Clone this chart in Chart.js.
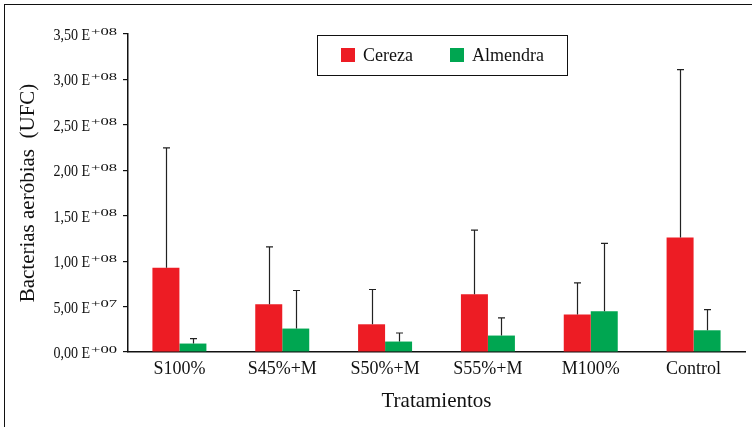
<!DOCTYPE html>
<html>
<head>
<meta charset="utf-8">
<script src="https://cdn.jsdelivr.net/npm/chart.js@4.4.1/dist/chart.umd.min.js"></script>
<style>
  html, body { margin: 0; padding: 0; background: #fff; }
  #wrap { position: relative; width: 752px; height: 427px; overflow: hidden; }
  #frame { position: absolute; left: 4px; top: 4px; width: 760px; height: 440px;
           border-left: 1.5px solid #111; border-top: 1.5px solid #111; pointer-events: none; }
  #legend { position: absolute; left: 317px; top: 35px; width: 249px; height: 39px;
            border: 1.5px solid #111; font-family: "Liberation Serif", "Times New Roman", serif;
            font-size: 18px; color: #111; }
  .sw { position: absolute; width: 14px; height: 14px; top: 12px; }
  .lt { position: absolute; top: 9px; line-height: 20px; }
</style>
</head>
<body>
<div id="wrap">
  <canvas id="c" width="752" height="427"></canvas>
  <div id="frame"></div>
  <div id="legend">
    <div class="sw" style="left:23px;background:#ED1C24"></div>
    <div class="lt" style="left:45px">Cereza</div>
    <div class="sw" style="left:132px;background:#00A651"></div>
    <div class="lt" style="left:154px">Almendra</div>
  </div>
</div>
<script>
const categories = ['S100%', 'S45%+M', 'S50%+M', 'S55%+M', 'M100%', 'Control'];
const cerezaValues = [0.926e8, 0.526e8, 0.305e8, 0.636e8, 0.412e8, 1.261e8];
const cerezaErrors = [1.320e8, 0.632e8, 0.383e8, 0.706e8, 0.349e8, 1.848e8];
const almendraValues = [0.093e8, 0.258e8, 0.115e8, 0.181e8, 0.449e8, 0.239e8];
const almendraErrors = [0.055e8, 0.419e8, 0.094e8, 0.194e8, 0.746e8, 0.228e8];
const yTickMain = ['0,00 E', '5,00 E', '1,00 E', '1,50 E', '2,00 E', '2,50 E', '3,00 E', '3,50 E'];
const yTickExp = ['+00', '+07', '+08', '+08', '+08', '+08', '+08', '+08'];

const SERIF = '"Liberation Serif", "Times New Roman", serif';

const errorBars = {
  id: 'errorBars',
  afterDatasetsDraw(chart) {
    const ctx = chart.ctx;
    const y = chart.scales.y;
    const errs = [cerezaErrors, almendraErrors];
    ctx.save();
    ctx.strokeStyle = '#222';
    ctx.lineWidth = 1.2;
    chart.data.datasets.forEach((ds, di) => {
      const meta = chart.getDatasetMeta(di);
      meta.data.forEach((bar, i) => {
        const v = ds.data[i];
        const top = y.getPixelForValue(v + errs[di][i]);
        const x = Math.round(bar.x) + 0.5;
        ctx.beginPath();
        ctx.moveTo(x, bar.y);
        ctx.lineTo(x, top);
        ctx.moveTo(x - 3.5, top);
        ctx.lineTo(x + 3.5, top);
        ctx.stroke();
      });
    });
    ctx.restore();
  }
};

const yLabels = {
  id: 'yLabels',
  afterDraw(chart) {
    const ctx = chart.ctx;
    const y = chart.scales.y;
    ctx.save();
    ctx.fillStyle = '#111';
    ctx.textBaseline = 'alphabetic';
    y.ticks.forEach((t, i) => {
      const py = y.getPixelForValue(t.value);
      ctx.font = '17px ' + SERIF;
      const mw = ctx.measureText(yTickMain[i]).width;
      const sx = 36.7 / mw;
      ctx.save();
      ctx.translate(53.5, py + 6);
      ctx.scale(sx, 1);
      ctx.textAlign = 'left';
      ctx.fillText(yTickMain[i], 0, 0);
      ctx.restore();
      ctx.font = '10px ' + SERIF;
      const ew = ctx.measureText(yTickExp[i]).width;
      const ex = 26 / ew;
      ctx.save();
      ctx.translate(91, py + 0.5);
      ctx.scale(ex, 1);
      ctx.textAlign = 'left';
      ctx.fillText(yTickExp[i], 0, 0);
      ctx.restore();
    });
    ctx.restore();
  }
};

new Chart(document.getElementById('c'), {
  type: 'bar',
  data: {
    labels: categories,
    datasets: [
      { label: 'Cereza', data: cerezaValues, backgroundColor: '#ED1C24', borderWidth: 0,
        categoryPercentage: 0.525, barPercentage: 1.0 },
      { label: 'Almendra', data: almendraValues, backgroundColor: '#00A651', borderWidth: 0,
        categoryPercentage: 0.525, barPercentage: 1.0 }
    ]
  },
  options: {
    responsive: false,
    animation: false,
    events: [],
    layout: { padding: { left: 0, top: 34, right: 7, bottom: 0 } },
    plugins: { legend: { display: false }, tooltip: { enabled: false } },
    scales: {
      x: {
        grid: { display: false, drawTicks: false },
        border: { display: true, color: '#111', width: 1.5 },
        ticks: { color: '#111', font: { family: SERIF, size: 18 }, padding: 6, maxRotation: 0 },
        title: { display: true, text: 'Tratamientos', color: '#111',
                 font: { family: SERIF, size: 21 }, padding: { top: 0, bottom: 13 } },
        afterFit(s) { s.height = 75; }
      },
      y: {
        min: 0, max: 3.5e8,
        ticks: { stepSize: 0.5e8, display: false },
        grid: { display: true, drawOnChartArea: false, drawTicks: true, tickLength: 5,
                color: '#111', lineWidth: 1.2 },
        border: { display: true, color: '#111', width: 1.5 },
        title: { display: true, text: 'Bacterias aeróbias  (UFC)', color: '#111',
                 font: { family: SERIF, size: 21 }, padding: { top: 16, bottom: 0 } },
        afterFit(s) { s.width = 128; }
      }
    }
  },
  plugins: [errorBars, yLabels]
});
</script>
</body>
</html>
